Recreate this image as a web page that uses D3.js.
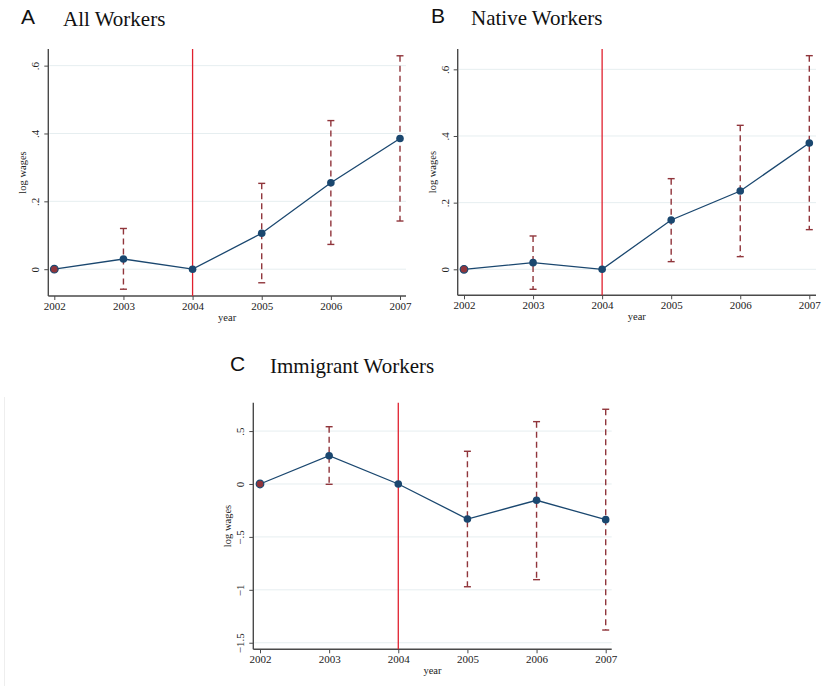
<!DOCTYPE html>
<html>
<head>
<meta charset="utf-8">
<script src="https://cdn.jsdelivr.net/npm/d3@7"></script>
<style>
  html, body { margin: 0; padding: 0; background: #fff; }
  svg { display: block; }
</style>
</head>
<body>
<svg id="chart" width="840" height="686"></svg>
<script>
// Event-study estimates of log wages by year, with 95% confidence intervals.
const years = [2002, 2003, 2004, 2005, 2006, 2007];
const eventYear = 2004;

// Panel A: all workers
const allEst = [0, 0.030, 0, 0.106, 0.255, 0.385];
const allLo  = [null, -0.059, null, -0.040, 0.073, 0.142];
const allHi  = [null, 0.120, null, 0.253, 0.438, 0.629];
const allTicks = [0, 0.2, 0.4, 0.6];
const allTickLabels = ["0", ".2", ".4", ".6"];

// Panel B: native workers
const nativeEst = [0, 0.020, 0, 0.148, 0.235, 0.379];
const nativeLo  = [null, -0.060, null, 0.023, 0.038, 0.119];
const nativeHi  = [null, 0.100, null, 0.272, 0.432, 0.641];
const nativeTicks = [0, 0.2, 0.4, 0.6];
const nativeTickLabels = ["0", ".2", ".4", ".6"];

// Panel C: immigrant workers
const immEst = [0, 0.267, 0, -0.331, -0.154, -0.337];
const immLo  = [null, -0.003, null, -0.971, -0.904, -1.380];
const immHi  = [null, 0.541, null, 0.309, 0.589, 0.706];
const immTicks = [-1.5, -1, -0.5, 0, 0.5];
const immTickLabels = ["\u22121.5", "\u22121", "\u2212.5", "0", ".5"];

const panelLetters = ["A", "B", "C"];
const panelTitles = ["All Workers", "Native Workers", "Immigrant Workers"];

const COL_LINE = "#1a476f";
const COL_CI = "#90353b";
const COL_EVENT = "#e0202e";
const COL_AXIS = "#4a4a4a";
const COL_GRID = "#e6eef0";
const SERIF = "'Liberation Serif', 'Times New Roman', serif";
const SANS = "'Liberation Sans', Arial, sans-serif";

const svg = d3.select("#chart");

// faint frame line at the lower left edge
svg.append("line")
  .attr("x1", 4.5).attr("x2", 4.5).attr("y1", 397).attr("y2", 686)
  .attr("stroke", "#eeeeee").attr("stroke-width", 1);

const panels = [
  { est: allEst, lo: allLo, hi: allHi, ticks: allTicks, labels: allTickLabels,
    letter: panelLetters[0], title: panelTitles[0],
    axL: 48.3, axR: 406, xA: 54.3, xB: 400, top: 49, bottom: 296, yDom: [-0.079, 0.649],
    letterX: 21, titleX: 63, titleY: 26 },
  { est: nativeEst, lo: nativeLo, hi: nativeHi, ticks: nativeTicks, labels: nativeTickLabels,
    letter: panelLetters[1], title: panelTitles[1],
    axL: 457.7, axR: 816, xA: 464, xB: 809.3, top: 49, bottom: 295.3, yDom: [-0.078, 0.661],
    letterX: 431, titleX: 471, titleY: 25 },
  { est: immEst, lo: immLo, hi: immHi, ticks: immTicks, labels: immTickLabels,
    letter: panelLetters[2], title: panelTitles[2],
    axL: 253.3, axR: 611.7, xA: 260, xB: 605.7, top: 402.7, bottom: 649.3, yDom: [-1.562, 0.768],
    letterX: 230, titleX: 270, titleY: 373 }
];

panels.forEach(p => {
  const g = svg.append("g");
  const x = d3.scaleLinear().domain([years[0], years[years.length - 1]]).range([p.xA, p.xB]);
  const y = d3.scaleLinear().domain(p.yDom).range([p.bottom, p.top]);

  // titles
  g.append("text").attr("x", p.letterX).attr("y", p.titleY - 2)
    .attr("font-family", SANS).attr("font-size", 21).attr("fill", "#111").text(p.letter);
  g.append("text").attr("x", p.titleX).attr("y", p.titleY)
    .attr("font-family", SERIF).attr("font-size", 21).attr("fill", "#111").text(p.title);

  // horizontal grid
  g.selectAll(".grid").data(p.ticks).join("line")
    .attr("x1", p.axL + 1).attr("x2", p.axR)
    .attr("y1", d => y(d)).attr("y2", d => y(d))
    .attr("stroke", COL_GRID).attr("stroke-width", 1);

  // y axis
  const yAxis = d3.axisLeft(y).tickValues(p.ticks)
    .tickFormat((d, i) => p.labels[i]).tickSize(4).tickSizeOuter(0);
  const ya = g.append("g").attr("transform", `translate(${p.axL},0)`).call(yAxis);
  ya.select(".domain").remove();
  ya.selectAll(".tick line").attr("stroke", COL_AXIS).attr("stroke-width", 1);
  ya.selectAll(".tick text")
    .attr("font-family", SERIF).attr("font-size", 11).attr("fill", "#222")
    .attr("x", null).attr("dy", null)
    .attr("text-anchor", "middle")
    .attr("transform", "translate(-9,0) rotate(-90)")
    .attr("y", 0);
  g.append("line").attr("x1", p.axL).attr("x2", p.axL).attr("y1", p.top).attr("y2", p.bottom)
    .attr("stroke", COL_AXIS).attr("stroke-width", 1.4);

  // x axis
  const xAxis = d3.axisBottom(x).tickValues(years).tickFormat(d3.format("d"))
    .tickSize(4).tickSizeOuter(0);
  const xa = g.append("g").attr("transform", `translate(0,${p.bottom})`).call(xAxis);
  xa.select(".domain").remove();
  xa.selectAll(".tick line").attr("stroke", COL_AXIS).attr("stroke-width", 1);
  xa.selectAll(".tick text")
    .attr("font-family", SERIF).attr("font-size", 11).attr("fill", "#222")
    .attr("dy", null).attr("y", 13.5);
  g.append("line").attr("x1", p.axL).attr("x2", p.axR).attr("y1", p.bottom).attr("y2", p.bottom)
    .attr("stroke", COL_AXIS).attr("stroke-width", 1.4);

  // axis titles
  g.append("text")
    .attr("transform", `translate(${p.axL - 22},${(p.top + p.bottom) / 2}) rotate(-90)`)
    .attr("text-anchor", "middle")
    .attr("font-family", SERIF).attr("font-size", 10.5).attr("fill", "#222").text("log wages");
  g.append("text")
    .attr("x", (p.axL + p.axR) / 2).attr("y", p.bottom + 25)
    .attr("text-anchor", "middle")
    .attr("font-family", SERIF).attr("font-size", 10.5).attr("fill", "#222").text("year");

  // event line
  g.append("line")
    .attr("x1", x(eventYear)).attr("x2", x(eventYear))
    .attr("y1", p.top).attr("y2", p.bottom)
    .attr("stroke", COL_EVENT).attr("stroke-width", 1.3);

  // confidence intervals
  const ci = years.map((yr, i) => ({ yr, lo: p.lo[i], hi: p.hi[i] })).filter(d => d.lo !== null);
  g.selectAll(".ci").data(ci).join("line")
    .attr("x1", d => x(d.yr)).attr("x2", d => x(d.yr))
    .attr("y1", d => y(d.hi)).attr("y2", d => y(d.lo))
    .attr("stroke", COL_CI).attr("stroke-width", 1.4)
    .attr("stroke-dasharray", "6,4");
  ["hi", "lo"].forEach(k => {
    g.selectAll(".cap-" + k).data(ci).join("line")
      .attr("x1", d => x(d.yr) - 3.5).attr("x2", d => x(d.yr) + 3.5)
      .attr("y1", d => y(d[k])).attr("y2", d => y(d[k]))
      .attr("stroke", COL_CI).attr("stroke-width", 1.4);
  });

  // estimate line and markers
  const pts = years.map((yr, i) => ({ yr, v: p.est[i] }));
  g.append("path").datum(pts)
    .attr("d", d3.line().x(d => x(d.yr)).y(d => y(d.v)))
    .attr("fill", "none").attr("stroke", COL_LINE).attr("stroke-width", 1.3);
  g.selectAll(".pt").data(pts).join("circle")
    .attr("cx", d => x(d.yr)).attr("cy", d => y(d.v)).attr("r", 3.8)
    .attr("fill", (d, i) => i === 0 ? COL_CI : COL_LINE)
    .attr("stroke", COL_LINE).attr("stroke-width", (d, i) => i === 0 ? 1.2 : 0);
});
</script>
</body>
</html>
